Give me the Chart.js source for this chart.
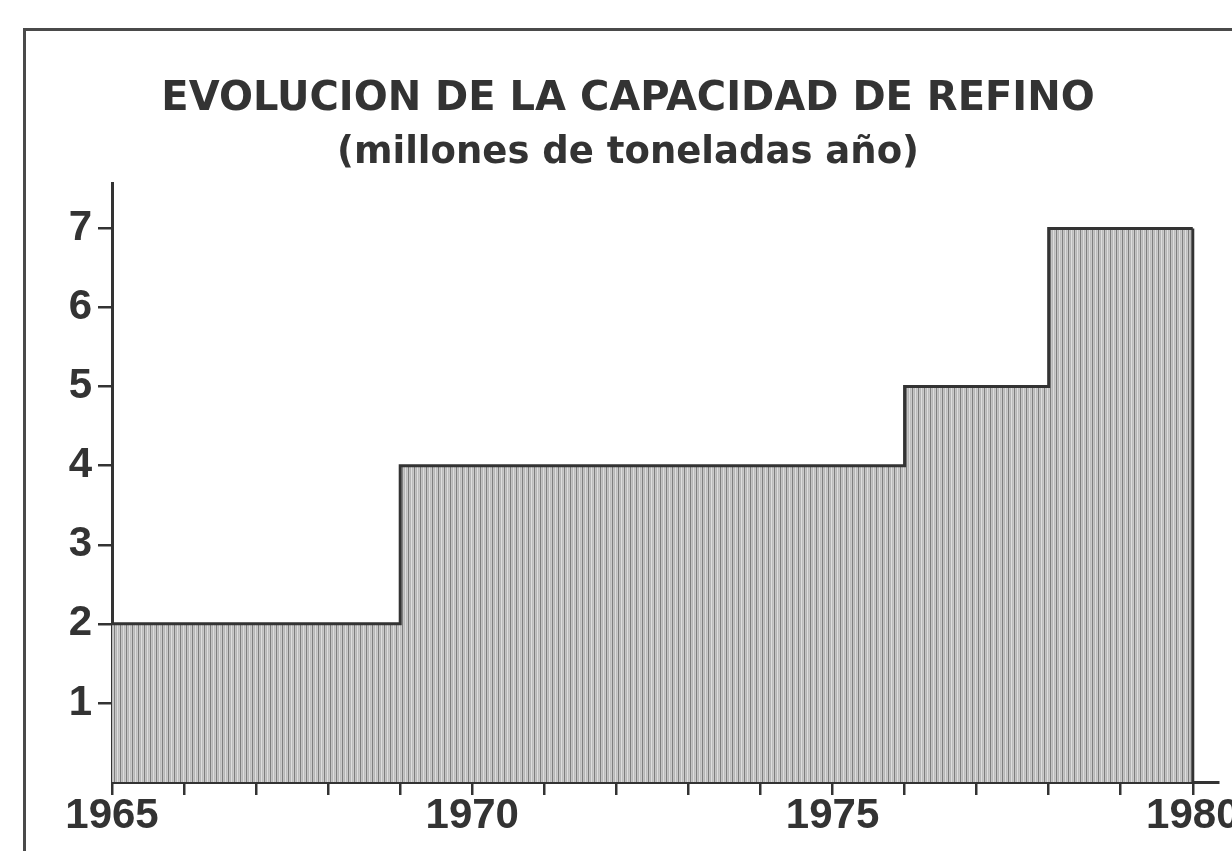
<!DOCTYPE html>
<html>
<head>
<meta charset="utf-8">
<script src="https://cdn.jsdelivr.net/npm/chart.js@4/dist/chart.umd.min.js"></script>
<style>
    html, body { margin: 0; padding: 0; background: #ffffff; }
    #wrap { position: relative; width: 1232px; height: 851px; overflow: hidden; }
    #frame {
        position: absolute; left: 23px; top: 28px; width: 1240px; height: 900px;
        border-left: 3px solid #4a4a4a; border-top: 3px solid #4a4a4a;
    }
    canvas { position: absolute; left: 0; top: 0; }
</style>
</head>
<body>
<div id="wrap">
    <div id="frame"></div>
    <canvas id="chart" width="1232" height="851"></canvas>
</div>
<script>
// year where each capacity level starts (last one closes the shape)
const stepYears = [1965, 1969, 1976, 1978, 1980];
const capacity = [2, 4, 5, 7, 7]; // millones de toneladas año

const yearTicks = [1965, 1966, 1967, 1968, 1969, 1970, 1971, 1972, 1973, 1974, 1975, 1976, 1977, 1978, 1979, 1980];
const capacityTicks = [0, 1, 2, 3, 4, 5, 6, 7];

const titleText = 'EVOLUCION DE LA CAPACIDAD DE REFINO';
const subtitleText = '(millones de toneladas año)';

const ink = '#333333';

// vertical hatching like the printed screen
const hatch = () => {
    const c = document.createElement('canvas');
    c.width = 6;
    c.height = 1;
    const g = c.getContext('2d');
    const cols = ['#7e7e7e', '#c4c4c4', '#b6b6b6', '#dedede', '#bcbcbc', '#cacaca'];
    cols.forEach((col, i) => {
        g.fillStyle = col;
        g.fillRect(i, 0, 1, 1);
    });
    return g.createPattern(c, 'repeat');
}

// draws the vertical right edge of the last step down to the axis
const closeStep = {
    id: 'closeStep',
    afterDatasetsDraw(chart) {
        const meta = chart.getDatasetMeta(0);
        const last = meta.data[meta.data.length - 1];
        const y0 = chart.scales.y.getPixelForValue(0);
        const ctx = chart.ctx;
        ctx.save();
        ctx.strokeStyle = ink;
        ctx.lineWidth = 3;
        ctx.beginPath();
        ctx.moveTo(last.x, last.y);
        ctx.lineTo(last.x, y0);
        ctx.stroke();
        ctx.restore();
    }
}

const ctx = document.getElementById('chart').getContext('2d');
new Chart(ctx, {
    type: 'line',
    data: {
        datasets: [{
            data: stepYears.map((yr, i) => ({x: yr, y: capacity[i]})),
            stepped: 'before',
            fill: 'origin',
            backgroundColor: hatch(),
            borderColor: ink,
            borderWidth: 3,
            pointRadius: 0,
        }]
    },
    options: {
        responsive: false,
        animation: false,
        layout: {
            padding: {left: 38, right: 14, top: 0, bottom: 14}
        },
        plugins: {
            legend: {display: false},
            tooltip: {enabled: false},
            title: {
                display: true,
                text: titleText,
                color: ink,
                font: {family: 'DejaVu Sans', size: 40, weight: 'bold', lineHeight: 1.2},
                padding: {top: 76, bottom: 0}
            },
            subtitle: {
                display: true,
                text: subtitleText,
                color: ink,
                font: {family: 'DejaVu Sans', size: 37, weight: 'bold', lineHeight: 1.2},
                padding: {top: 7, bottom: 8}
            }
        },
        scales: {
            x: {
                type: 'linear',
                min: 1965,
                max: 1980.35,
                afterBuildTicks: (scale) => {
                    scale.ticks = yearTicks.map(v => ({value: v}));
                },
                afterFit: (scale) => {
                    scale.paddingLeft = 0;
                    scale.paddingRight = 0;
                },
                border: {display: true, color: ink, width: 3},
                grid: {
                    drawOnChartArea: false,
                    drawTicks: true,
                    tickLength: 13,
                    color: ink,
                    lineWidth: 2.5
                },
                ticks: {
                    autoSkip: false,
                    maxRotation: 0,
                    padding: 0,
                    color: ink,
                    font: {family: 'Liberation Sans', size: 42, weight: 'bold', lineHeight: 1},
                    callback: (v) => v % 5 === 0 ? String(v) : ''
                }
            },
            y: {
                min: 0,
                max: 7.57,
                afterBuildTicks: (scale) => {
                    scale.ticks = capacityTicks.map(v => ({value: v}));
                },
                afterFit: (scale) => {
                    scale.width = 74;
                },
                border: {display: true, color: ink, width: 3},
                grid: {
                    drawOnChartArea: false,
                    drawTicks: true,
                    tickLength: 14,
                    color: (c) => c.tick && c.tick.value === 0 ? 'rgba(0,0,0,0)' : ink,
                    lineWidth: 2.5
                },
                ticks: {
                    padding: 6,
                    color: ink,
                    font: {family: 'Liberation Sans', size: 42, weight: 'bold', lineHeight: 1},
                    callback: (v) => v === 0 ? '' : String(v)
                }
            }
        }
    },
    plugins: [closeStep]
});
</script>
</body>
</html>
